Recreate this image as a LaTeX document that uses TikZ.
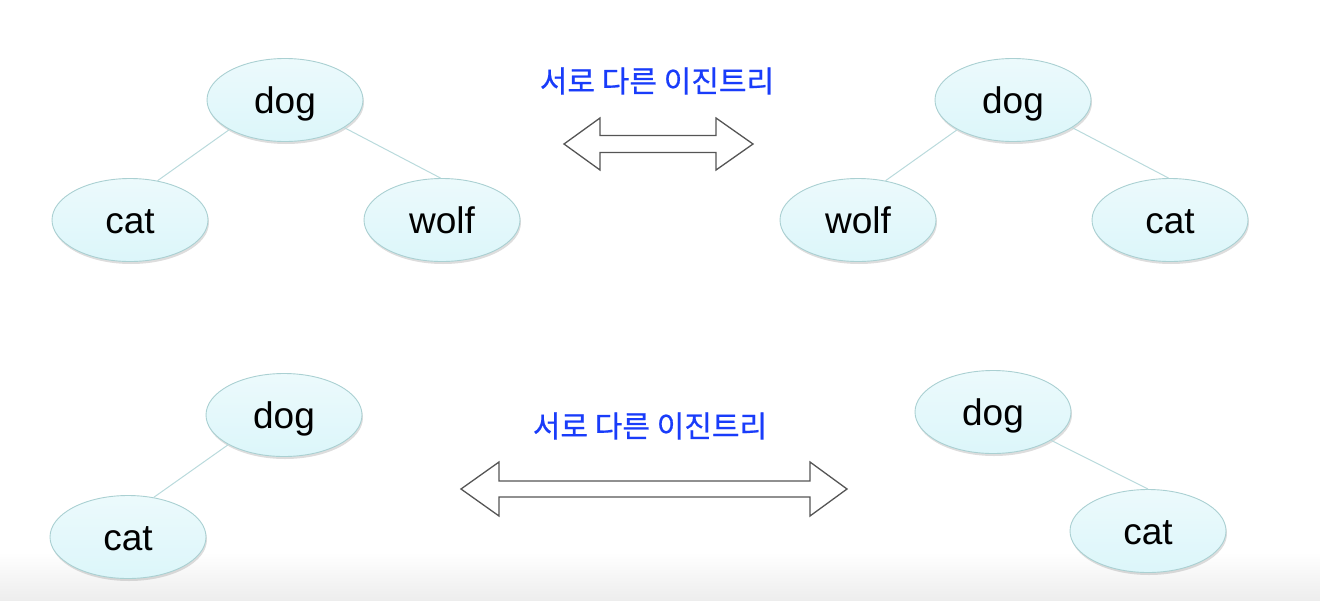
\documentclass[tikz,border=0pt]{standalone}
\usepackage{fontspec}
\setmainfont{Liberation Sans}
\newfontfamily\kofont[FakeBold=0.6]{Noto Sans CJK KR}
\usetikzlibrary{shapes.geometric,shadows}
\definecolor{edgec}{RGB}{185,218,220}
\definecolor{ringc}{RGB}{170,208,210}
\definecolor{filltop}{RGB}{236,250,252}
\definecolor{fillbot}{RGB}{220,246,250}
\definecolor{kblue}{RGB}{25,60,250}
\definecolor{arrowc}{RGB}{85,85,85}
\tikzset{
  tnode/.style={ellipse, draw=ringc, line width=0.9pt, top color=filltop, bottom color=fillbot,
    minimum width=156pt, minimum height=83pt, inner sep=0pt,
    text height=28pt, text depth=2pt,
    font=\fontsize{37}{40}\selectfont,
    drop shadow={shadow xshift=1pt, shadow yshift=-2.5pt, opacity=0.22, fill=black!60}},
  edge/.style={draw=edgec, line width=1pt},
  dblarrow/.style={draw=arrowc, line width=1.3pt, fill=white, line join=miter},
  klabel/.style={font=\kofont\fontsize{30}{34}\selectfont, text=kblue, inner sep=0pt}
}
\begin{document}
\begin{tikzpicture}[x=1pt,y=-1pt]
\useasboundingbox (0,0) rectangle (1320,600);
\shade[top color=white, bottom color=black!7] (0,552) rectangle (1320,600);
% top-left tree
\node[tnode] (d1) at (285,100) {dog};
\node[tnode] (c1) at (130,220) {cat};
\node[tnode] (w1) at (442,220) {wolf};
\draw[edge] (d1.208) -- (c1.55);
\draw[edge] (d1.335) -- (w1.92);
% top-right tree
\node[tnode] (d2) at (1013,100) {dog};
\node[tnode] (w2) at (858,220) {wolf};
\node[tnode] (c2) at (1170,220) {cat};
\draw[edge] (d2.208) -- (w2.55);
\draw[edge] (d2.335) -- (c2.92);
% bottom-left tree
\node[tnode] (d3) at (284,415) {dog};
\node[tnode] (c3) at (128,537) {cat};
\draw[edge] (d3.208) -- (c3.57);
% bottom-right tree
\node[tnode] (d4) at (993,412) {dog};
\node[tnode] (c4) at (1148,531) {cat};
\draw[edge] (d4.334) -- (c4.90);
% labels
\node[klabel] (t1) at (657,81) {서로 다른 이진트리};
\node[klabel] (t2) at (650,426) {서로 다른 이진트리};
% double arrows
\draw[dblarrow] (564,144) -- (600,118) -- (600,135.5) -- (716,135.5) -- (716,118) -- (753,144)
  -- (716,170) -- (716,152.5) -- (600,152.5) -- (600,170) -- cycle;
\draw[dblarrow] (461,489) -- (499,462) -- (499,481) -- (810,481) -- (810,462) -- (847,489)
  -- (810,516) -- (810,497) -- (499,497) -- (499,516) -- cycle;
\end{tikzpicture}
\end{document}
